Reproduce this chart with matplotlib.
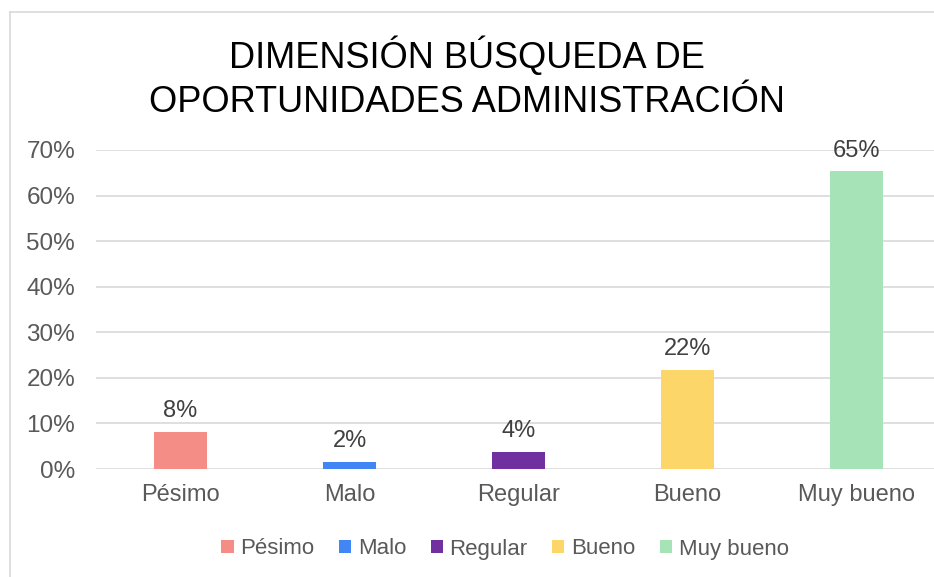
import matplotlib
matplotlib.use('Agg')
import matplotlib.pyplot as plt
from matplotlib.lines import Line2D
from matplotlib.patches import Patch

# data
categories = ['Pésimo', 'Malo', 'Regular', 'Bueno', 'Muy bueno']
values = [8.1, 1.6, 3.8, 21.7, 65.3]
labels = ['8%', '2%', '4%', '22%', '65%']
colors = ['#f38d86', '#4285f4', '#7030a0', '#fcd669', '#a6e3b7']
yticks = [0, 10, 20, 30, 40, 50, 60, 70]

plt.rcParams['font.family'] = ['Liberation Sans', 'DejaVu Sans']
W, H = 934, 577
fig = plt.figure(figsize=(W / 100, H / 100), dpi=100)

# plot area in pixels
left, right, top, bottom = 96, 934, 150, 469
ax = fig.add_axes([left / W, 1 - bottom / H, (right - left) / W, (bottom - top) / H])

x = range(len(categories))
ax.bar(x, values, width=0.31, color=colors, zorder=3)
for i, (v, lab) in enumerate(zip(values, labels)):
    ax.annotate(lab, (i, v), xytext=(0, 7), textcoords='offset points',
                ha='center', va='bottom', fontsize=17, color='#404040')

ax.set_ylim(0, 70)
ax.set_xlim(-0.5, (right - left) / 169 - 0.5)
ax.set_yticks(yticks)
ax.set_yticklabels([f'{t}%' for t in yticks], fontsize=17.5, color='#595959')
ax.set_xticks(list(x))
ax.set_xticklabels(categories, fontsize=17, color='#595959')
ax.tick_params(length=0)
ax.tick_params(axis='x', pad=11)
ax.tick_params(axis='y', pad=15)
ax.grid(axis='y', color='#d9d9d9', linewidth=1.2, zorder=0)
for s in ax.spines.values():
    s.set_visible(False)

# title
fig.text(467 / W, 1 - 68 / H, 'DIMENSIÓN BÚSQUEDA DE', ha='center', va='baseline',
         fontsize=26, color='black')
fig.text(467 / W, 1 - 112 / H, 'OPORTUNIDADES ADMINISTRACIÓN', ha='center', va='baseline',
         fontsize=26, color='black')

# legend
handles = [Patch(facecolor=c, edgecolor='none') for c in colors]
fig.legend(handles, categories, loc='center', bbox_to_anchor=(505 / W, 1 - 549 / H),
           ncol=5, frameon=False, fontsize=16, handlelength=0.55, handleheight=0.55,
           handletextpad=0.3, columnspacing=1.1, labelcolor='#595959')

# chart border
fig.add_artist(Line2D([10 / W, 10 / W], [0, 1 - 12 / H], color='#d9d9d9', lw=1.2))
fig.add_artist(Line2D([10 / W, 1], [1 - 12 / H, 1 - 12 / H], color='#d9d9d9', lw=1.2))

fig.savefig('out.png', dpi=100)
